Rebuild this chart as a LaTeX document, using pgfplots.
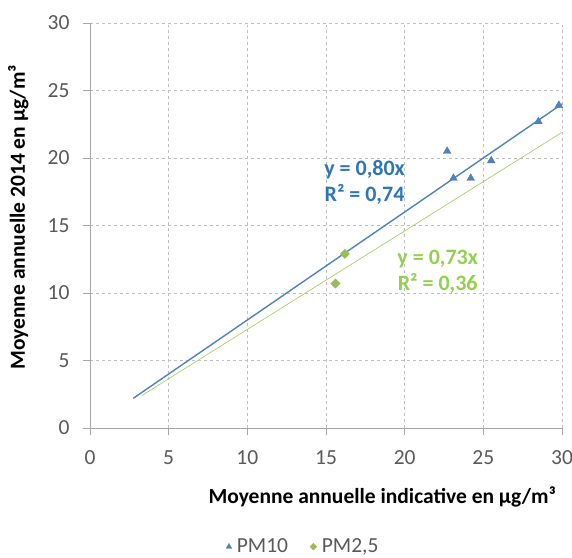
\documentclass[border=0pt]{standalone}
\usepackage{fontspec}
\setmainfont{Carlito}
\usepackage{pgfplots}
\pgfplotsset{compat=1.18}
\definecolor{pmblue}{HTML}{4F81BD}
\definecolor{pmgreen}{HTML}{9BBB59}
\definecolor{txtblue}{HTML}{2E75B6}
\definecolor{txtgreen}{HTML}{92D050}
\definecolor{lgreen}{HTML}{A9CF6A}
\definecolor{ticktxt}{HTML}{595959}
\definecolor{axgray}{HTML}{A6A6A6}
\definecolor{gridgray}{HTML}{C0C0C0}
\begin{document}
\begin{tikzpicture}
\useasboundingbox (-90bp,-130bp) rectangle (482bp,428bp);
\begin{axis}[
  at={(0,0)}, anchor=south west,
  scale only axis, width=472bp, height=405bp,
  xmin=0, xmax=30, ymin=0, ymax=30,
  xtick={0,5,...,30}, ytick={0,5,...,30},
  axis x line=bottom, axis y line=left,
  axis line style={axgray, line width=0.8pt, -},
  tick style={axgray, line width=0.8pt},
  tick align=outside, major tick length=7bp,
  grid=major,
  grid style={gridgray, dashed, line width=0.6pt},
  tick label style={font=\fontsize{21.5bp}{25bp}\selectfont, text=ticktxt},
  /pgf/number format/assume math mode=true,
  xticklabel style={yshift=-12bp},
  yticklabel style={xshift=-10bp},
  xlabel={\textbf{Moyenne annuelle indicative en µg/m³}},
  ylabel={\textbf{Moyenne annuelle 2014  en µg/m³}},
  label style={font=\fontsize{21.5bp}{25bp}\selectfont},
  xlabel style={at={(axis description cs:0.619,-0.170)}, anchor=center},
  ylabel style={at={(axis description cs:-0.152,0.52)}, anchor=center},
  legend style={at={(axis description cs:0.452,-0.293)}, anchor=center, draw=none,
    fill=none, inner sep=0pt,
    font=\fontsize{21.5bp}{22bp}\selectfont, text=ticktxt, legend columns=2,
    /tikz/every even column/.append style={column sep=20bp},
    /tikz/every odd column/.append style={column sep=3bp}},
  legend image code/.code={\draw[#1] plot coordinates {(0.05cm,0cm)};},
  legend cell align=left,
  clip=false,
]
% trend lines
\addplot[pmblue, line width=1.4pt, forget plot] coordinates {(2.75,2.2) (30,24.0)};
\addplot[lgreen, line width=0.7pt, forget plot] coordinates {(3.3,2.41) (30,21.9)};
% PM10
\addplot[only marks, mark=triangle*, mark size=4.5bp, pmblue, forget plot] coordinates {
  (22.7,20.5) (23.1,18.5) (24.2,18.5) (25.5,19.8) (28.5,22.7) (29.8,23.9)
};
% PM2.5
\addplot[only marks, mark=square*, mark options={rotate=45}, mark size=3.3bp, pmgreen, forget plot] coordinates {
  (16.2,12.9) (15.6,10.7)
};
\addlegendimage{only marks, mark=triangle*, mark size=3.2bp, pmblue}
\addlegendentry{PM10}
\addlegendimage{only marks, mark=square*, mark options={rotate=45}, mark size=2.4bp, pmgreen}
\addlegendentry{PM2,5}
\node[font=\bfseries\fontsize{22bp}{26bp}\selectfont, text=txtblue, align=center] at (axis cs:17.45,18.2) {y = 0,80x\\R² = 0,74};
\node[font=\bfseries\fontsize{22bp}{26bp}\selectfont, text=txtgreen, align=center] at (axis cs:22.1,11.55) {y = 0,73x\\R² = 0,36};
\end{axis}
\end{tikzpicture}
\end{document}
